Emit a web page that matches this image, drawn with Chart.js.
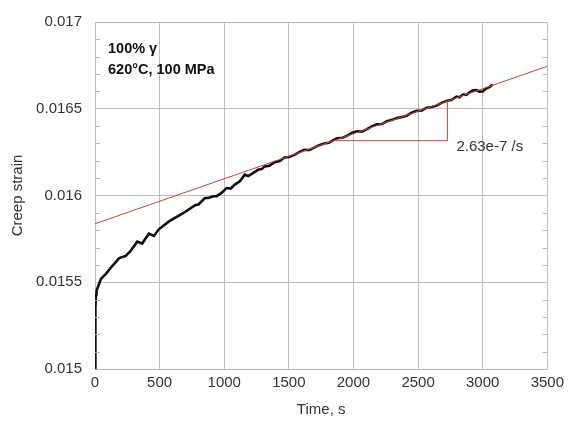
<!DOCTYPE html>
<html>
<head>
<meta charset="utf-8">
<script src="https://cdn.jsdelivr.net/npm/chart.js@4"></script>
<style>
  html, body { margin: 0; padding: 0; background: #fff; }
  #wrap { width: 569px; height: 430px; }
</style>
</head>
<body>
<div id="wrap"><canvas id="myChart" width="569" height="430"></canvas></div>
<script>
// measured creep curve (time in s, strain)
let creepTime = [0, 3, 8, 12, 46, 84, 135, 187, 238, 276, 327, 365, 417, 455, 494, 570, 622, 698, 775, 801, 839, 852, 877, 916, 941, 979, 1018, 1050, 1082, 1121, 1159, 1185, 1210, 1261, 1290, 1312, 1350, 1389, 1430, 1466, 1500, 1543, 1580, 1619, 1660, 1696, 1735, 1773, 1810, 1850, 1875, 1915, 1952, 1990, 2029, 2065, 2105, 2145, 2182, 2220, 2259, 2300, 2336, 2375, 2412, 2450, 2489, 2530, 2566, 2605, 2643, 2680, 2720, 2760, 2797, 2820, 2847, 2875, 2898, 2925, 2950, 2975, 3001, 3025, 3052, 3078];
let creepStrain = [0.01500, 0.01535, 0.01543, 0.015452, 0.015519, 0.015548, 0.015595, 0.015639, 0.015652, 0.015681, 0.015734, 0.015723, 0.01578, 0.015767, 0.015805, 0.015849, 0.015872, 0.015906, 0.015944, 0.015948, 0.015977, 0.015986, 0.015986, 0.015996, 0.015996, 0.016015, 0.016043, 0.016040, 0.016063, 0.016082, 0.01612, 0.016112, 0.016123, 0.016148, 0.016152, 0.016167, 0.016172, 0.016192, 0.016198, 0.016219, 0.016222, 0.016234, 0.016250, 0.016263, 0.016262, 0.016276, 0.016290, 0.016300, 0.016304, 0.016322, 0.016330, 0.016333, 0.016345, 0.016362, 0.016370, 0.016368, 0.016382, 0.016400, 0.016410, 0.016412, 0.016428, 0.016436, 0.016446, 0.016452, 0.016460, 0.016477, 0.016488, 0.016490, 0.016506, 0.016510, 0.016518, 0.016534, 0.016545, 0.016552, 0.016570, 0.016566, 0.016582, 0.016580, 0.016595, 0.016606, 0.016608, 0.016598, 0.016600, 0.016616, 0.016625, 0.016640];

// linear fit, slope 2.63e-7 /s
let fitTime = [0, 3500];
let fitStrain = [0.015837, 0.016745];

// slope triangle
let triTime = [1847, 2727, 2727];
let triStrain = [0.016316, 0.016316, 0.016544];

let xTickLabels = ['0', '500', '1000', '1500', '2000', '2500', '3000', '3500'];
let yTickLabels = ['0.015', '0.0155', '0.016', '0.0165', '0.017'];
let yMinorTicks = [0.0151, 0.0152, 0.0153, 0.0154, 0.0156, 0.0157, 0.0158, 0.0159, 0.0161, 0.0162, 0.0163, 0.0164, 0.0166, 0.0167, 0.0168, 0.0169];

let slopeLabel = '2.63e-7 /s';
let noteLines = ['100% \u03b3', '620\u00b0C, 100 MPa'];

const fontFamily = '"Liberation Sans", Arial, sans-serif';
const gridColor = '#bdbdbd';
const red = '#c5463b';

function toPoints(xs, ys) {
    let pts = [];
    for (let i = 0; i < xs.length; i++) {
        pts.push({ x: xs[i], y: ys[i] });
    }
    return pts;
}

const extras = {
    id: 'extras',
    afterDatasetsDraw(chart) {
        const ctx = chart.ctx;
        const xs = chart.scales.x;
        const ys = chart.scales.y;
        const area = chart.chartArea;
        ctx.save();
        // minor ticks on left and right edges
        ctx.strokeStyle = '#b5b5b5';
        ctx.lineWidth = 1;
        yMinorTicks.forEach(v => {
            const py = Math.round(ys.getPixelForValue(v)) + 0.5;
            ctx.beginPath();
            ctx.moveTo(area.left, py);
            ctx.lineTo(area.left + 5, py);
            ctx.moveTo(area.right - 5, py);
            ctx.lineTo(area.right, py);
            ctx.stroke();
        });
        // slope label
        ctx.fillStyle = '#333';
        ctx.font = '15px ' + fontFamily;
        ctx.textAlign = 'left';
        ctx.textBaseline = 'middle';
        ctx.fillText(slopeLabel, xs.getPixelForValue(triTime[1]) + 9, ys.getPixelForValue(triStrain[0]) + 6);
        // notes
        ctx.font = 'bold 14.5px ' + fontFamily;
        ctx.textBaseline = 'alphabetic';
        ctx.fillStyle = '#111';
        ctx.fillText(noteLines[0], area.left + 13, area.top + 31);
        ctx.fillText(noteLines[1], area.left + 13, area.top + 52);
        ctx.restore();
    }
};

const ctx = document.getElementById('myChart');

new Chart(ctx, {
    type: 'scatter',
    data: {
        datasets: [{
            data: toPoints(fitTime, fitStrain),
            showLine: true,
            borderColor: red,
            borderWidth: 1,
            pointRadius: 0,
        }, {
            data: toPoints(triTime, triStrain),
            showLine: true,
            borderColor: red,
            borderWidth: 1,
            pointRadius: 0,
        }, {
            data: toPoints(creepTime, creepStrain),
            showLine: true,
            borderColor: '#111',
            borderWidth: 2.6,
            pointRadius: 0,
            tension: 0,
        }]
    },
    options: {
        responsive: false,
        animation: false,
        layout: {
            padding: { left: 0, right: 17, top: 19, bottom: 0 }
        },
        scales: {
            x: {
                type: 'linear',
                min: 0,
                max: 3500,
                afterFit: (scale) => { scale.height = 61; },
                ticks: {
                    stepSize: 500,
                    padding: 5,
                    color: '#333',
                    font: { size: 15, family: fontFamily },
                    callback: (v, i) => xTickLabels[i],
                    maxRotation: 0,
                },
                grid: { color: gridColor, drawTicks: false },
                border: { color: gridColor },
                title: {
                    display: true,
                    text: 'Time, s',
                    color: '#333',
                    padding: 11,
                    font: { size: 15, family: fontFamily },
                }
            },
            y: {
                type: 'linear',
                min: 0.015,
                max: 0.017,
                afterFit: (scale) => { scale.width = 95; },
                ticks: {
                    stepSize: 0.0005,
                    padding: 13,
                    color: '#333',
                    font: { size: 15, family: fontFamily },
                    callback: (v, i) => yTickLabels[i],
                },
                grid: { color: gridColor, drawTicks: false },
                border: { color: gridColor },
                title: {
                    display: true,
                    text: 'Creep strain',
                    color: '#333',
                    padding: 9,
                    font: { size: 15, family: fontFamily },
                }
            }
        },
        plugins: {
            legend: { display: false },
            tooltip: { enabled: false }
        }
    },
    plugins: [extras]
});
</script>
</body>
</html>
